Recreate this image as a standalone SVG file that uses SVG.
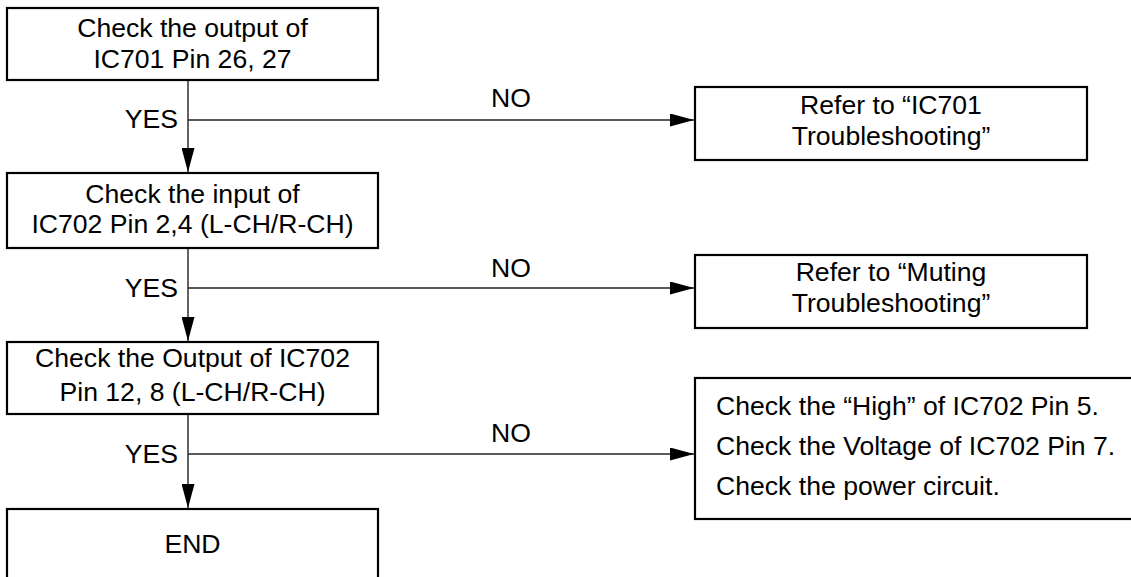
<svg xmlns="http://www.w3.org/2000/svg" width="1131" height="577" viewBox="0 0 1131 577">
<style>
.box{fill:#fff;stroke:#000;stroke-width:2.2}
.t{font-family:"Liberation Sans",Arial,sans-serif;font-size:26.6px;fill:#000}
.c{text-anchor:middle}
.e{text-anchor:end}
.ln{stroke:#222;stroke-width:1.4;fill:none}
</style>
<defs>
<marker id="ah" markerUnits="userSpaceOnUse" markerWidth="24" markerHeight="13" refX="24" refY="6.5" orient="auto" viewBox="0 0 24 13">
<path d="M0,0 L24,6.5 L0,13 Z" fill="#000"/>
</marker>
</defs>
<rect width="1131" height="577" fill="#fff"/>
<g id="connectors">
<line class="ln" x1="188" y1="80" x2="188" y2="172" marker-end="url(#ah)"/>
<line class="ln" x1="188" y1="248" x2="188" y2="341" marker-end="url(#ah)"/>
<line class="ln" x1="188" y1="414" x2="188" y2="508" marker-end="url(#ah)"/>
<line class="ln" x1="188" y1="120" x2="694" y2="120" marker-end="url(#ah)"/>
<line class="ln" x1="188" y1="288" x2="694" y2="288" marker-end="url(#ah)"/>
<line class="ln" x1="188" y1="454" x2="694" y2="454" marker-end="url(#ah)"/>
<text class="t e" x="178" y="128">YES</text>
<text class="t e" x="178" y="297">YES</text>
<text class="t e" x="178" y="463">YES</text>
<text class="t c" x="511" y="107">NO</text>
<text class="t c" x="511" y="277">NO</text>
<text class="t c" x="511" y="442">NO</text>
</g>
<g id="n1">
<rect class="box" x="7" y="8" width="371" height="72"/>
<text class="t c" x="192.5" y="37">Check the output of</text>
<text class="t c" x="192.5" y="68">IC701 Pin 26, 27</text>
</g>
<g id="n2">
<rect class="box" x="7" y="173" width="371" height="75"/>
<text class="t c" x="192.5" y="203">Check the input of</text>
<text class="t c" x="192.5" y="233">IC702 Pin 2,4 (L-CH/R-CH)</text>
</g>
<g id="n3">
<rect class="box" x="7" y="342" width="371" height="72"/>
<text class="t c" x="192.5" y="367">Check the Output of IC702</text>
<text class="t c" x="192.5" y="401">Pin 12, 8 (L-CH/R-CH)</text>
</g>
<g id="n4">
<rect class="box" x="7" y="509" width="371" height="90"/>
<text class="t c" x="192.5" y="553">END</text>
</g>
<g id="r1">
<rect class="box" x="695" y="87" width="392" height="73"/>
<text class="t c" x="891" y="114">Refer to “IC701</text>
<text class="t c" x="891" y="145">Troubleshooting”</text>
</g>
<g id="r2">
<rect class="box" x="695" y="255" width="392" height="73"/>
<text class="t c" x="891" y="281">Refer to “Muting</text>
<text class="t c" x="891" y="312">Troubleshooting”</text>
</g>
<g id="r3">
<rect class="box" x="695" y="378" width="450" height="141"/>
<text class="t" x="716" y="415">Check the “High” of IC702 Pin 5.</text>
<text class="t" x="716" y="455">Check the Voltage of IC702 Pin 7.</text>
<text class="t" x="716" y="495">Check the power circuit.</text>
</g>
</svg>
